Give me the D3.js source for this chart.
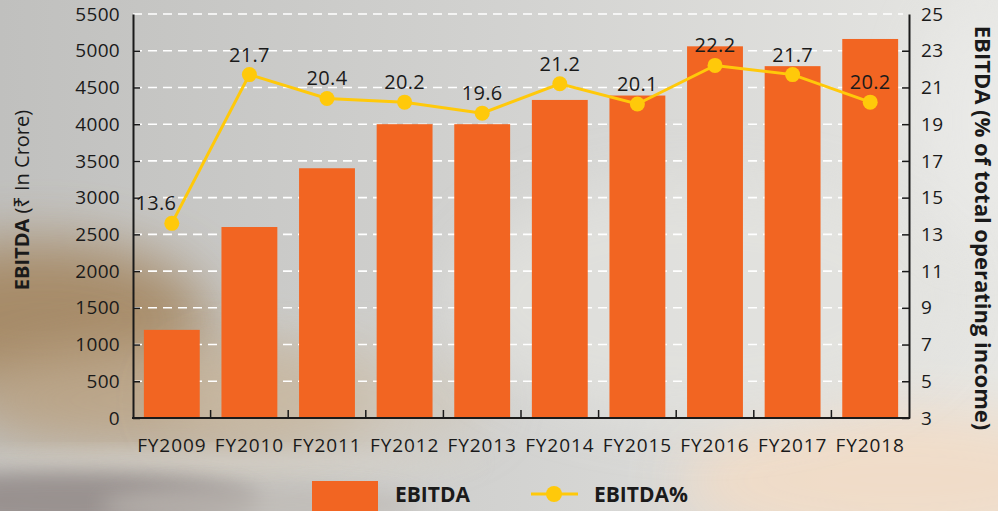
<!DOCTYPE html>
<html><head><meta charset="utf-8">
<script src="https://cdn.jsdelivr.net/npm/d3@7"></script>
<style>html,body{margin:0;padding:0;background:#d8d8d6;overflow:hidden}svg{display:block}</style>
</head><body>
<svg id="chart" width="998" height="511"></svg>
<script>
const categories = ["FY2009","FY2010","FY2011","FY2012","FY2013","FY2014","FY2015","FY2016","FY2017","FY2018"];
const ebitda = [1200, 2600, 3400, 4000, 4000, 4330, 4390, 5060, 4790, 5160];
const ebitdaPct = [13.6, 21.7, 20.4, 20.2, 19.6, 21.2, 20.1, 22.2, 21.7, 20.2];
const leftTicks = [0,500,1000,1500,2000,2500,3000,3500,4000,4500,5000,5500];
const rightTicks = [3,5,7,9,11,13,15,17,19,21,23,25];

const W = 998, H = 511;
const m = {left:133, right:909, top:14, bottom:418};
const FONT = "'Open Sans', 'Noto Sans', sans-serif";
const BAR = "#F26522", LINE = "#FFC90A", INK = "#1a1a1a";

const svg = d3.select("#chart");
const defs = svg.append("defs");
const bg = defs.append("linearGradient").attr("id","bgG").attr("x1",0).attr("x2",1).attr("y1",0).attr("y2",0);
bg.append("stop").attr("offset","0%").attr("stop-color","#c0c0be");
bg.append("stop").attr("offset","50%").attr("stop-color","#d2d2d0");
bg.append("stop").attr("offset","100%").attr("stop-color","#e6e6e3");
defs.append("filter").attr("id","blur").attr("x","-50%").attr("y","-50%").attr("width","200%").attr("height","200%")
  .append("feGaussianBlur").attr("stdDeviation",28);
defs.append("filter").attr("id","blur2").attr("x","-50%").attr("y","-50%").attr("width","200%").attr("height","200%")
  .append("feGaussianBlur").attr("stdDeviation",10);

const bgG = svg.append("g");
bgG.append("rect").attr("width",W).attr("height",H).attr("fill","url(#bgG)");
const blobs = [
  {cx:40, cy:320, rx:170, ry:80, c:"#a48660", o:0.9, f:"blur"},
  {cx:170, cy:400, rx:200, ry:55, c:"#bca587", o:0.85, f:"blur"},
  {cx:330, cy:400, rx:160, ry:50, c:"#cfc3b0", o:0.6, f:"blur"},
  {cx:220, cy:462, rx:260, ry:10, c:"#d6d2cb", o:0.8, f:"blur2"},
  {cx:60, cy:500, rx:200, ry:28, c:"#958d8b", o:0.9, f:"blur2"},
  {cx:260, cy:505, rx:160, ry:20, c:"#bdb8b2", o:0.7, f:"blur2"},
  {cx:900, cy:480, rx:220, ry:70, c:"#f2dcc6", o:0.9, f:"blur"},
  {cx:700, cy:300, rx:250, ry:120, c:"#e4e4e0", o:0.7, f:"blur"},
  {cx:980, cy:120, rx:60, ry:120, c:"#ececea", o:0.6, f:"blur"}
];
bgG.selectAll("ellipse").data(blobs).join("ellipse")
  .attr("cx",d=>d.cx).attr("cy",d=>d.cy).attr("rx",d=>d.rx).attr("ry",d=>d.ry)
  .attr("fill",d=>d.c).attr("opacity",d=>d.o).attr("filter",d=>`url(#${d.f})`);

const x = d3.scaleBand().domain(categories).range([m.left, m.right]).paddingInner(0.28).paddingOuter(0.14);
const xb = d3.scaleBand().domain(categories).range([m.left, m.right]);
const yL = d3.scaleLinear().domain([0,5500]).range([m.bottom, m.top]);
const yR = d3.scaleLinear().domain([3,25]).range([m.bottom, m.top]);

// grid
svg.append("g").selectAll("line").data(leftTicks.filter(t=>t>0)).join("line")
  .attr("x1",m.left).attr("x2",m.right-6).attr("y1",d=>yL(d)).attr("y2",d=>yL(d))
  .attr("stroke","#ffffff").attr("stroke-width",1.6).attr("stroke-dasharray","9,6");

// bars
svg.append("g").selectAll("rect").data(categories).join("rect")
  .attr("x",d=>x(d)).attr("width",x.bandwidth())
  .attr("y",(d,i)=>yL(ebitda[i])).attr("height",(d,i)=>yL(0)-yL(ebitda[i]))
  .attr("fill",BAR);

// axes
const axL = svg.append("g").attr("transform",`translate(${m.left},0)`)
  .call(d3.axisLeft(yL).tickValues(leftTicks).tickFormat(d3.format("d")).tickSizeInner(-7).tickSizeOuter(0).tickPadding(13));
const axR = svg.append("g").attr("transform",`translate(${m.right},0)`)
  .call(d3.axisRight(yR).tickValues(rightTicks).tickFormat(d3.format("d")).tickSizeInner(-7).tickSizeOuter(0).tickPadding(12));
[axL, axR].forEach(a=>{
  a.select(".domain").attr("stroke",INK).attr("stroke-width",2);
  a.selectAll(".tick line").attr("stroke",INK).attr("stroke-width",1.5);
  a.selectAll(".tick text").attr("font-family",FONT).attr("font-size",19).attr("letter-spacing","0.3px").attr("fill",INK);
});
axR.selectAll(".tick").filter(d=>d===25).select("line").remove();
axL.selectAll(".tick").filter(d=>d===5500).select("line").remove();

// bottom axis
const axB = svg.append("g");
axB.append("line").attr("x1",m.left-1).attr("x2",m.right+1).attr("y1",m.bottom).attr("y2",m.bottom)
  .attr("stroke",INK).attr("stroke-width",2);
axB.selectAll("line.tk").data(categories.slice(1)).join("line").attr("class","tk")
  .attr("x1",d=>xb(d)).attr("x2",d=>xb(d)).attr("y1",m.bottom).attr("y2",m.bottom-8)
  .attr("stroke",INK).attr("stroke-width",1.5);
axB.selectAll("text").data(categories).join("text")
  .attr("x",d=>xb(d)+xb.bandwidth()/2).attr("y",m.bottom+34)
  .attr("text-anchor","middle").attr("font-family",FONT).attr("font-size",19).attr("letter-spacing","0.9px").attr("fill",INK)
  .text(d=>d);

// line
const px = d => xb(d)+xb.bandwidth()/2;
const line = d3.line().x((d,i)=>px(categories[i])).y(d=>yR(d));
svg.append("path").datum(ebitdaPct).attr("d",line).attr("fill","none").attr("stroke",LINE).attr("stroke-width",3);
svg.append("g").selectAll("circle").data(ebitdaPct).join("circle")
  .attr("cx",(d,i)=>px(categories[i])).attr("cy",d=>yR(d)).attr("r",7.5).attr("fill",LINE);
svg.append("g").selectAll("text").data(ebitdaPct).join("text")
  .attr("x",(d,i)=>px(categories[i]) + (i===0?-16:0)).attr("y",d=>yR(d)-13)
  .attr("text-anchor","middle").attr("font-family",FONT).attr("font-size",20).attr("letter-spacing","0.3px").attr("fill",INK)
  .text(d=>d.toFixed(1));

// axis titles
const tl = svg.append("text").attr("transform","translate(29,200) rotate(-90)")
  .attr("text-anchor","middle").attr("font-family",FONT).attr("font-size",20).attr("fill",INK);
tl.append("tspan").attr("font-weight","bold").text("EBITDA");
tl.append("tspan").text(" (₹ In Crore)");
svg.append("text").attr("transform","translate(975,228) rotate(90)")
  .attr("text-anchor","middle").attr("font-family",FONT).attr("font-size",22).attr("font-weight","bold").attr("fill",INK)
  .text("EBITDA (% of total operating income)");

// legend
const lg = svg.append("g");
lg.append("rect").attr("x",312).attr("y",481).attr("width",66).attr("height",40).attr("fill",BAR);
lg.append("text").attr("x",395).attr("y",502).attr("font-family",FONT).attr("font-size",21).attr("font-weight","bold").attr("fill",INK).text("EBITDA");
lg.append("line").attr("x1",531).attr("x2",578).attr("y1",494).attr("y2",494).attr("stroke",LINE).attr("stroke-width",3);
lg.append("circle").attr("cx",554).attr("cy",494).attr("r",8).attr("fill",LINE);
lg.append("text").attr("x",594).attr("y",502).attr("font-family",FONT).attr("font-size",21).attr("font-weight","bold").attr("fill",INK).text("EBITDA%");
</script>
</body></html>
